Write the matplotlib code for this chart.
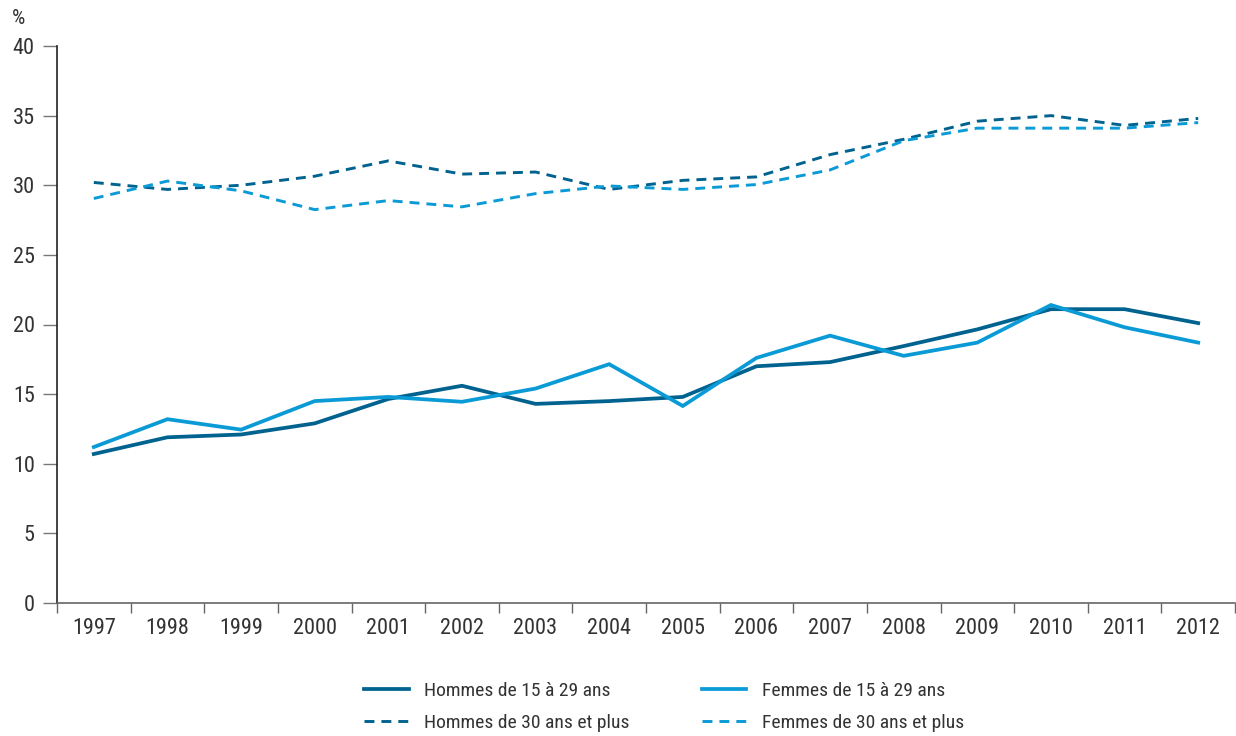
import matplotlib
matplotlib.use("Agg")
import matplotlib.pyplot as plt
from matplotlib.ticker import FixedLocator, NullFormatter

plt.rcParams['font.family'] = ['Roboto Condensed', 'DejaVu Sans']

years = [str(y) for y in range(1997, 2013)]

hommes_15_29 = [10.7, 11.9, 12.1, 12.9, 14.65, 15.6, 14.3, 14.5, 14.8, 17.0, 17.3, 18.45, 19.65, 21.1, 21.1, 20.1]
femmes_15_29 = [11.2, 13.2, 12.45, 14.5, 14.8, 14.45, 15.4, 17.15, 14.15, 17.6, 19.2, 17.75, 18.7, 21.4, 19.8, 18.7]
hommes_30_plus = [30.2, 29.7, 30.0, 30.65, 31.75, 30.8, 30.95, 29.7, 30.35, 30.6, 32.2, 33.3, 34.6, 35.0, 34.3, 34.8]
femmes_30_plus = [29.05, 30.3, 29.6, 28.25, 28.9, 28.45, 29.4, 29.95, 29.7, 30.05, 31.1, 33.2, 34.1, 34.1, 34.1, 34.5]

labels = ["Hommes de 15 à 29 ans", "Hommes de 30 ans et plus",
          "Femmes de 15 à 29 ans", "Femmes de 30 ans et plus"]

dark = "#00628f"
light = "#0a9ad6"
text_col = "#333333"

fig = plt.figure(figsize=(12.36, 7.36), dpi=100)
ax = fig.add_axes([57 / 1236, 1 - 603 / 736, (1235 - 57) / 1236, (603 - 46) / 736])

x = list(range(len(years)))
l1, = ax.plot(x, hommes_15_29, color=dark, lw=2.7, solid_joinstyle="miter")
l3, = ax.plot(x, femmes_15_29, color=light, lw=2.7, solid_joinstyle="miter")
l2, = ax.plot(x, hommes_30_plus, color=dark, lw=2.1, dashes=(3.4, 2.4))
l4, = ax.plot(x, femmes_30_plus, color=light, lw=2.1, dashes=(3.4, 2.4))

ax.set_xlim(-0.5, len(years) - 0.5)
ax.set_ylim(0, 40)
ax.set_yticks(range(0, 41, 5))
ax.set_xticks(x)
ax.set_xticklabels(years)
# tick marks sit between the years
ax.xaxis.set_minor_locator(FixedLocator([i - 0.5 for i in range(len(years) + 1)]))
ax.xaxis.set_minor_formatter(NullFormatter())

for s in ["top", "right"]:
    ax.spines[s].set_visible(False)
ax.spines["left"].set_color("#222222")
ax.spines["left"].set_linewidth(1.2)
ax.spines["bottom"].set_color("#666666")
ax.spines["bottom"].set_linewidth(1.2)

ax.tick_params(axis="y", direction="out", length=10, width=1.0, color="#777777",
               labelsize=16, labelcolor=text_col, pad=6)
ax.tick_params(axis="x", which="major", length=0, labelsize=16, labelcolor=text_col, pad=11)
ax.tick_params(axis="x", which="minor", direction="out", length=7, width=1.0, color="#666666")

fig.text(12 / 1236, 1 - 18 / 736, "%", fontsize=15, color=text_col, va="center", ha="left")

fig.legend([l1, l2, l3, l4], labels, loc="center", bbox_to_anchor=(664 / 1236, 1 - 707 / 736),
           ncol=2, frameon=False, fontsize=14, handlelength=2.3, handletextpad=0.8,
           columnspacing=3.7, labelspacing=0.75, labelcolor=text_col)

fig.savefig("out.png", dpi=100)
